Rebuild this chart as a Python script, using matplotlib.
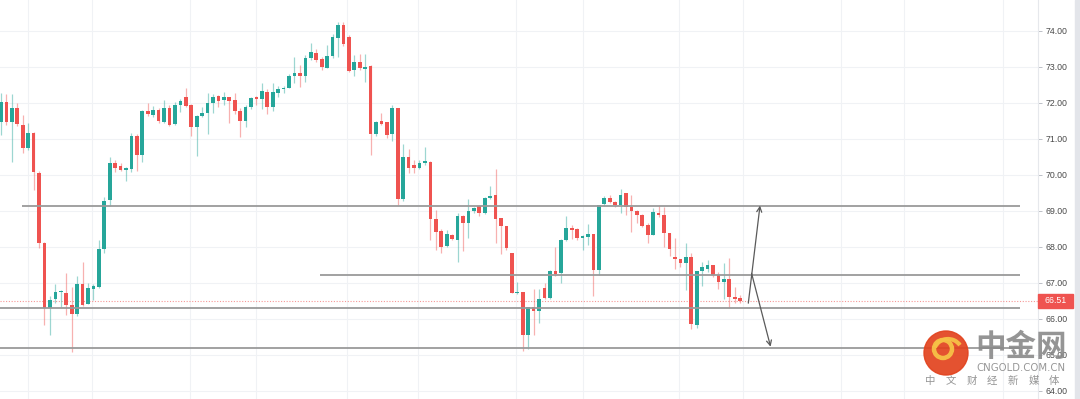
import matplotlib
matplotlib.use("Agg")
import matplotlib.pyplot as plt
from matplotlib.patches import Circle, Rectangle, Arc
import numpy as np

# ---------------- data ----------------
opens = [71.48, 72.04, 71.48, 71.87, 71.39, 70.74, 71.18, 70.05, 68.12, 66.30,
         66.55, 66.74, 66.73, 66.39, 66.13, 66.97, 66.42, 66.84, 66.90, 67.94,
         69.31, 70.33, 70.25, 70.14, 70.16, 71.08, 70.56, 71.78, 71.67, 71.81,
         71.48, 71.85, 71.42, 71.94, 72.16, 71.94, 71.32, 71.64, 71.71, 71.99,
         72.19, 72.08, 72.16, 72.08, 71.79, 71.51, 71.88, 72.16, 72.10, 72.31,
         71.88, 72.29, 72.38, 72.43, 72.75, 72.82, 72.76, 73.26, 73.38, 73.22,
         72.98, 73.31, 73.81, 74.17, 73.84, 72.92, 73.13, 72.94, 73.04, 71.13,
         71.50, 71.46, 71.13, 71.85, 69.33, 70.51, 70.29, 70.20, 70.32, 70.37,
         68.77, 68.45, 68.03, 68.33, 68.20, 68.86, 68.66, 69.01, 69.14, 68.95,
         69.35, 69.44, 68.80, 68.59, 67.84, 66.72, 66.76, 65.56, 66.34, 66.21,
         66.85, 66.58, 67.32, 67.27, 68.19, 68.54, 68.49, 68.25, 68.27, 68.36,
         67.36, 69.19, 69.35, 69.26, 69.17, 69.49, 69.10, 69.01, 68.89, 68.61,
         68.33, 68.95, 68.89, 68.38, 67.73, 67.68, 67.55, 67.71, 65.83, 67.34,
         67.38, 67.50, 67.22, 67.04, 67.10, 66.60, 66.57]
highs = [72.27, 72.25, 72.25, 72.01, 71.67, 71.44, 71.20, 70.12, 68.15, 66.64,
         66.97, 66.81, 67.29, 66.90, 67.20, 67.57, 66.99, 66.97, 68.20, 69.38,
         70.51, 70.42, 70.33, 70.21, 71.16, 71.14, 71.81, 71.99, 71.92, 71.85,
         72.08, 71.94, 72.04, 72.10, 72.41, 71.96, 71.67, 71.90, 72.29, 72.25,
         72.22, 72.31, 72.16, 72.27, 71.85, 71.94, 72.18, 72.19, 72.56, 72.38,
         72.56, 72.47, 72.47, 72.81, 73.27, 73.05, 73.33, 73.66, 73.50, 73.29,
         73.61, 73.93, 74.24, 74.24, 73.89, 73.33, 73.35, 73.35, 73.06, 71.50,
         71.71, 71.46, 71.94, 71.85, 70.85, 70.72, 70.41, 70.41, 70.79, 70.39,
         69.03, 68.50, 68.47, 68.36, 68.95, 68.89, 69.32, 69.12, 69.17, 69.40,
         69.70, 70.16, 68.80, 68.59, 67.84, 67.04, 66.76, 66.34, 66.82, 66.82,
         67.01, 67.36, 68.01, 68.21, 68.86, 68.61, 68.52, 68.33, 68.64, 68.36,
         69.17, 69.42, 69.44, 69.29, 69.60, 69.51, 69.44, 69.03, 68.92, 68.68,
         69.07, 69.17, 69.12, 68.38, 68.24, 67.68, 68.12, 67.82, 67.34, 67.59,
         67.64, 67.50, 67.31, 67.55, 67.69, 66.90, 66.67]
lows = [71.11, 71.39, 70.37, 71.35, 70.60, 70.70, 69.58, 67.96, 65.83, 65.56,
        66.45, 66.33, 66.11, 65.07, 66.07, 66.36, 66.42, 66.53, 66.85, 67.84,
        69.14, 70.09, 70.12, 69.84, 70.07, 70.12, 70.37, 71.64, 71.62, 71.45,
        71.45, 71.36, 71.39, 71.76, 71.90, 71.08, 70.53, 71.60, 71.14, 71.73,
        71.90, 71.94, 71.45, 71.69, 71.05, 71.32, 71.82, 71.94, 71.82, 71.69,
        71.79, 72.16, 72.29, 72.41, 72.56, 72.45, 72.59, 73.19, 73.15, 72.92,
        72.96, 73.26, 73.29, 73.59, 72.85, 72.76, 72.92, 72.59, 70.56, 71.07,
        71.39, 71.04, 70.94, 69.17, 69.28, 70.05, 70.05, 70.17, 70.28, 68.19,
        67.92, 67.84, 67.99, 68.19, 67.59, 67.90, 68.24, 68.94, 68.86, 68.93,
        69.32, 68.12, 67.81, 67.93, 66.71, 66.70, 65.12, 65.16, 65.56, 65.90,
        66.55, 66.55, 67.20, 67.01, 68.18, 68.21, 68.19, 67.92, 68.06, 66.64,
        67.22, 69.14, 69.21, 69.12, 68.94, 68.89, 68.43, 68.68, 68.55, 68.12,
        68.33, 68.82, 68.01, 67.75, 67.38, 67.44, 66.80, 65.71, 65.74, 66.92,
        67.31, 67.18, 66.82, 66.55, 66.30, 66.45, 66.45]
closes = [72.04, 71.48, 71.87, 71.42, 70.74, 71.18, 70.07, 68.10, 66.30, 66.53,
          66.76, 66.78, 66.39, 66.13, 66.97, 66.39, 66.85, 66.92, 67.94, 69.29,
          70.33, 70.19, 70.14, 70.19, 71.08, 70.56, 71.78, 71.70, 71.81, 71.51,
          71.85, 71.39, 71.94, 72.06, 71.92, 71.34, 71.64, 71.73, 72.01, 72.18,
          72.06, 72.16, 72.06, 71.79, 71.51, 71.88, 72.13, 72.10, 72.34, 71.88,
          72.31, 72.38, 72.43, 72.75, 72.82, 72.76, 73.26, 73.41, 73.19, 73.01,
          73.31, 73.84, 74.17, 73.63, 72.89, 73.13, 72.96, 73.01, 71.13, 71.48,
          71.43, 71.11, 71.85, 69.33, 70.51, 70.19, 70.20, 70.32, 70.39, 68.77,
          68.42, 68.01, 68.36, 68.21, 68.86, 68.66, 69.01, 69.09, 68.95, 69.37,
          69.42, 68.77, 68.58, 67.96, 66.73, 66.76, 65.56, 66.34, 66.23, 66.55,
          66.58, 67.32, 67.25, 68.19, 68.54, 68.47, 68.24, 68.30, 68.36, 67.36,
          69.17, 69.35, 69.26, 69.17, 69.44, 69.10, 69.01, 68.89, 68.58, 68.33,
          68.98, 68.89, 68.38, 67.94, 67.66, 67.55, 67.71, 65.86, 67.34, 67.44,
          67.50, 67.22, 67.04, 67.10, 66.60, 66.55, 66.51]

price_ticks = [64, 65, 66, 67, 68, 69, 70, 71, 72, 73, 74]
tick_labels = ["64.00", "65.00", "66.00", "67.00", "68.00", "69.00",
               "70.00", "71.00", "72.00", "73.00", "74.00"]
last_price = 66.51
last_label = "66.51"

# drawn horizontal levels: (price, start bar, end bar)
levels = [69.14, 67.22, 66.31, 65.19]
level_start = [3.9, 58.7, -1.0, -1.0]
level_end = [187.5, 187.5, 187.5, 187.5]

# drawn arrows (bar, price)
arrow_up = ((137.5, 66.44), (139.65, 69.15))
arrow_down = ((138.1, 67.27), (141.6, 65.23))

# vertical grid positions (in bar units)
vgrid = [5.0, 16.75, 34.75, 47.0, 63.75, 76.75, 94.75, 107.0, 124.75,
         136.5, 154.5, 166.1, 184.4]

# ---------------- figure ----------------
W, H = 1080, 399
fig = plt.figure(figsize=(W / 100, H / 100), dpi=100)
fig.patch.set_facecolor("white")

plot_right_px = 1038
ax = fig.add_axes([0, 0, plot_right_px / W, 1])
ax.set_facecolor("white")

bar_px = 5.435
x0_px = 1.0
ax.set_xlim(-x0_px / bar_px, (plot_right_px - x0_px) / bar_px)
ymax = 74 + 31 / 36
ymin = 74 - (H - 31) / 36
ax.set_ylim(ymin, ymax)

GREEN = "#26a69a"
RED = "#ef5350"

n = len(opens)
x = np.arange(n)
o = np.array(opens); c = np.array(closes)
h = np.array(highs); l = np.array(lows)
up = c >= o
cols = np.where(up, GREEN, RED)

# grid
for p in price_ticks:
    ax.axhline(p, color="#f0f2f5", lw=0.8, zorder=0)
for g in vgrid:
    ax.axvline(g, color="#f0f2f5", lw=0.8, zorder=0)

# wicks
for i in range(n):
    ax.vlines(x[i], l[i], h[i], color=cols[i], lw=0.9, alpha=0.45, zorder=2)
# bodies
bottom = np.minimum(o, c)
height = np.maximum(np.abs(c - o), 0.04)
ax.bar(x, height, bottom=bottom, width=0.68, color=cols, zorder=3, linewidth=0)

# last price dotted line
ax.axhline(last_price, color=RED, lw=0.8, ls=(0, (1, 1.5)), alpha=0.6, zorder=1)

# horizontal levels
for p, s, e in zip(levels, level_start, level_end):
    ax.hlines(p, s, e, color="#9a9a9a", lw=1.3, zorder=4)

# arrows
for (s, e) in (arrow_up, arrow_down):
    ax.annotate("", xy=e, xytext=s,
                arrowprops=dict(arrowstyle="->", color="#5a5a5a", lw=0.9,
                                shrinkA=0, shrinkB=0, mutation_scale=9),
                zorder=5)

# axis styling
for sp in ["top", "left", "bottom"]:
    ax.spines[sp].set_visible(False)
ax.spines["right"].set_color("#e6e8ec")
ax.spines["right"].set_linewidth(0.8)
ax.set_xticks([])
ax.yaxis.tick_right()
ax.set_yticks(price_ticks)
ax.set_yticklabels(tick_labels)
ax.tick_params(axis="y", length=3, width=0.6, color="#b2b5be", pad=2.5,
               labelsize=6.3, labelcolor="#4a4a4a")
for t in ax.get_yticklabels():
    t.set_fontfamily("Liberation Sans")

# ---------------- overlay (pixel coordinates) ----------------
ov = fig.add_axes([0, 0, 1, 1], zorder=10)
ov.set_xlim(0, W)
ov.set_ylim(H, 0)
ov.axis("off")
ov.patch.set_alpha(0)

# price label box
ov.add_patch(Rectangle((1038, 293.5), 35, 14, color=RED, zorder=2))
ov.text(1055.5, 300.5, last_label, color="white", fontsize=6.3,
        ha="center", va="center", family="Liberation Sans", zorder=3)

# right scroll strip
ov.add_patch(Rectangle((1075, 0), 5, H, color="#e3e5ea", zorder=1))

# logo
ov.add_patch(Circle((946, 353), 22, color="#e2431e", alpha=0.92, zorder=4))
ov.add_patch(Circle((943, 349), 9, facecolor="none", edgecolor="#f7c247",
                    lw=3.2, alpha=0.95, zorder=5))
ov.add_patch(Arc((948, 352), 28, 26, theta1=200, theta2=330,
                 edgecolor="#f7c247", lw=3.0, alpha=0.95, zorder=5))
ov.text(1021, 347, "中金网", fontsize=22, color="#8a8a8a", weight="bold",
        family=["Noto Sans CJK SC", "DejaVu Sans"], ha="center", va="center",
        alpha=0.9, zorder=6)
ov.text(1020.5, 368, "CNGOLD.COM.CN", fontsize=7.3, color="#8a8a8a",
        family="DejaVu Sans", ha="center", va="center", alpha=0.9, zorder=6)
chars = "中文财经新媒体"
for k, ch in enumerate(chars):
    ov.text(930 + 20.7 * k, 381, ch, fontsize=7.5, color="#8a8a8a",
            family=["Noto Sans CJK SC", "DejaVu Sans"], ha="center",
            va="center", alpha=0.9, zorder=6)

fig.savefig("out.png", dpi=100, facecolor="white")
